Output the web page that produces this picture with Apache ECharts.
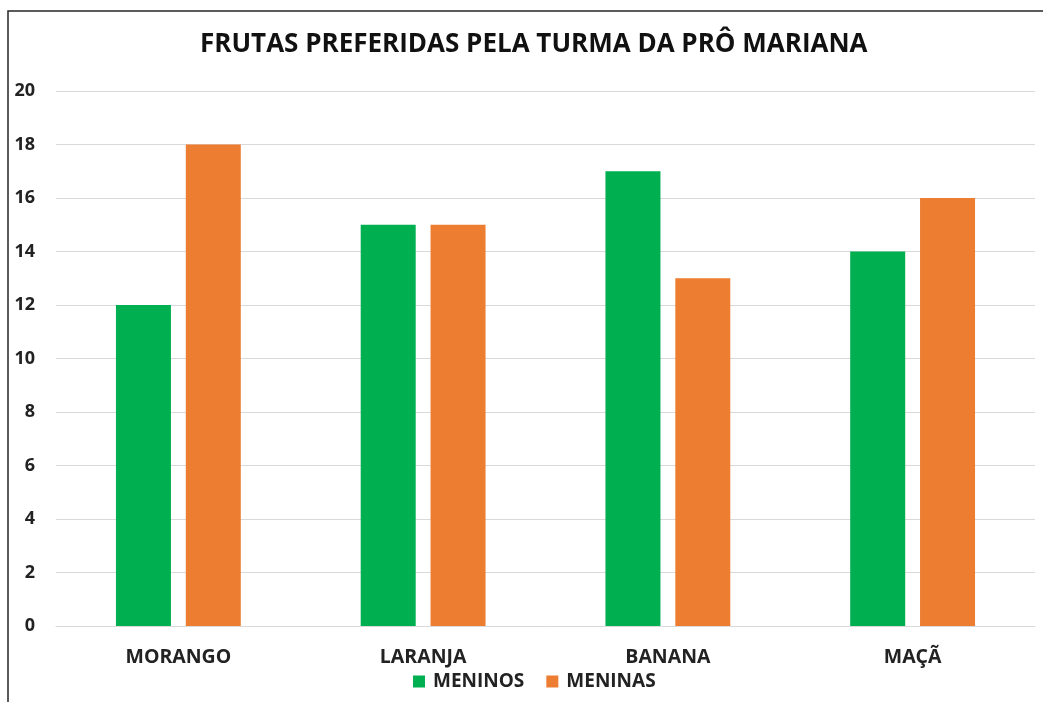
<!DOCTYPE html>
<html><head><meta charset="utf-8">
<script src="https://cdn.jsdelivr.net/npm/echarts@6/dist/echarts.min.js"></script>
<style>html,body{margin:0;padding:0;background:#fff}#c{width:1043px;height:702px}</style>
</head><body><div id="c"></div>
<script>
const categories = ['MORANGO', 'LARANJA', 'BANANA', 'MAÇÃ'];
const meninos = [12, 15, 17, 14];
const meninas = [18, 15, 13, 16];
const yTicks = {min: 0, max: 20, interval: 2};
const fontFam = '"Open Sans", "DejaVu Sans", sans-serif';
const chart = echarts.init(document.getElementById('c'));
chart.setOption({
  animation: false,
  backgroundColor: '#fff',
  graphic: [{type: 'rect', shape: {x: 8, y: 11, width: 1200, height: 900}, style: {fill: 'none', stroke: '#262626', lineWidth: 1.5}}],
  title: {text: 'FRUTAS PREFERIDAS PELA TURMA DA PRÔ MARIANA', left: 195, top: 27,
    textStyle: {fontFamily: fontFam, fontWeight: 'bold', fontSize: 26, color: '#111'}},
  legend: {bottom: 6, left: 408, itemWidth: 12, itemHeight: 12, itemGap: 22,
    icon: 'rect', textStyle: {fontFamily: fontFam, fontWeight: 'bold', fontSize: 19, color: '#222', padding: [0, 0, 0, 3]},
    data: ['MENINOS', 'MENINAS']},
  grid: {left: 56, right: 8, top: 91, bottom: 76, containLabel: false},
  xAxis: {type: 'category', data: categories,
    axisLine: {lineStyle: {color: '#d9d9d9'}}, axisTick: {show: false},
    axisLabel: {fontFamily: fontFam, fontWeight: 'bold', fontSize: 19.5, color: '#222', margin: 21}},
  yAxis: {type: 'value', min: yTicks.min, max: yTicks.max, interval: yTicks.interval,
    axisLine: {show: false}, axisTick: {show: false},
    splitLine: {lineStyle: {color: '#d9d9d9', width: 1}},
    axisLabel: {fontFamily: fontFam, fontWeight: 'bold', fontSize: 18, color: '#222', margin: 21}},
  series: [
    {name: 'MENINOS', type: 'bar', data: meninos, barWidth: 55, barGap: '27%', itemStyle: {color: '#00B050'}},
    {name: 'MENINAS', type: 'bar', data: meninas, barWidth: 55, itemStyle: {color: '#ED7D31'}}
  ]
});
</script></body></html>
